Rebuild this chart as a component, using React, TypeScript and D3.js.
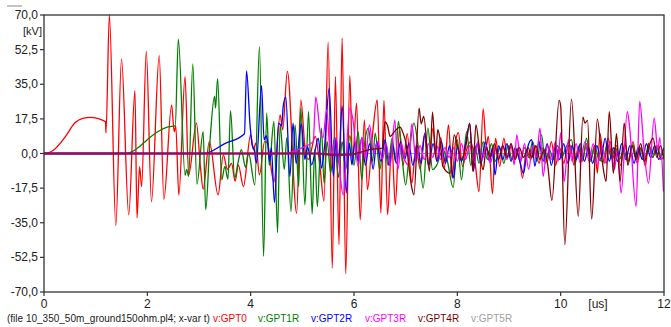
import React from "react";
import * as d3 from "d3";

type P = [number, number];

const gpt0: P[] = [
  [0,0],[0.1,0.5],[0.2,2],[0.4,8],[0.6,15.5],[0.75,17.8],[0.9,18.3],[1.05,17.6],[1.19,16],[1.2,10.4],[1.265,70],[1.39,-36.5],[1.5,47.7],[1.64,-31],[1.76,31.8],[1.8,-32.5],[1.85,-6.6],[1.89,-16.7],[1.98,51.6],[2.08,-24.3],[2.23,49.4],[2.32,-23.2],[2.47,24.6],[2.52,11],[2.55,14],[2.61,-21],[2.73,38.9],[2.8,-10.8],[2.95,15.4],[3.03,-7.4],[3.08,-18],[3.2,6],[3.37,-20.9],[3.47,-0.7],[3.55,-8],[3.63,-5],[3.7,-14],[3.76,-5.7],[3.86,-16.7],[4.0,9.5],[4.05,1.9],[4.1,5.2],[4.17,-10.8],[4.27,6],[4.33,5.2],[4.36,0],[4.45,-14.5],[4.57,19.5],[4.62,12],[4.71,41.5],[4.89,-30.2],[4.97,27.1],[5.07,-1.5],[5.12,-3],[5.25,8.6],[5.34,-6.5],[5.42,-24],[5.5,56.3],[5.58,-58],[5.64,38.9],[5.71,-46],[5.77,58.3],[5.84,-60.8],[5.92,39.3],[5.97,-4.9],[6.05,25.5],[6.12,-33.5],[6.2,17],[6.26,-18.3],[6.36,10],[6.45,27.1],[6.52,-30.1],[6.58,26.8],[6.65,-31],[6.73,5.4],[6.8,-26],[6.88,12],[6.95,-6],[7.03,10],[7.12,-15],[7.2,4],[7.28,-8],[7.36,9],[7.44,-6],[7.53,12.8],[7.6,-4],[7.68,8],[7.75,-7],[7.83,14.5],[7.9,-12.4],[7.96,5],[8.02,10.6],[8.1,-6.5],[8.18,2],[8.26,6],[8.34,-4],[8.42,-19.2],[8.5,22.6],[8.56,4],[8.6,8.6],[8.68,-20.4],[8.74,7.8],[8.82,-6.5],[8.9,7.8],[8.97,-2],[9.04,3.5],[9.12,-2],[9.18,3],[9.26,-12.4],[9.34,1.9],[9.42,-3],[9.5,4],[9.58,-5],[9.66,3],[9.74,-4],[9.82,6],[9.9,-6],[9.98,3],[10.06,-5],[10.12,2],[10.18,4.4],[10.26,-6],[10.34,3],[10.42,-4],[10.5,5],[10.58,-3],[10.66,4],[10.71,-9.9],[10.76,10.3],[10.84,-5],[10.92,7.8],[11.0,-3],[11.08,4],[11.16,-6],[11.24,5],[11.32,-4],[11.4,6],[11.48,-5],[11.56,3],[11.64,-6.5],[11.7,5.2],[11.78,-2],[11.86,4],[11.94,-3],[12,-1.5]
];

const gpt1r: P[] = [
  [0,0],[1.59,0],[1.8,2.5],[2.0,7],[2.2,11],[2.4,13.5],[2.54,14],[2.6,57.8],[2.73,-11],[2.76,-8],[2.8,-11.6],[2.88,45.3],[2.96,-15.5],[3.08,11],[3.13,-28.5],[3.21,5.3],[3.3,28.8],[3.32,23],[3.36,37.8],[3.44,-13.3],[3.5,-6.5],[3.56,-13],[3.61,21.7],[3.69,-12.4],[3.76,-4],[3.82,2],[3.9,-7],[3.96,0],[4.08,-15.8],[4.17,54],[4.25,-52],[4.31,20.4],[4.36,-6],[4.45,16.2],[4.52,-40],[4.57,14.5],[4.65,-8],[4.7,8],[4.78,-29.3],[4.86,14.5],[4.93,-16.7],[4.97,23],[5.05,-26],[5.12,21.2],[5.19,-30.5],[5.24,2],[5.29,-26.8],[5.37,12.8],[5.42,-15],[5.48,6],[5.55,-10],[5.62,8],[5.7,-12],[5.77,6],[5.84,-8],[5.92,9],[6.0,-6],[6.08,11],[6.15,-13.3],[6.2,4],[6.28,12.8],[6.36,-4],[6.41,10.3],[6.5,-8.2],[6.58,6],[6.66,-6],[6.74,8],[6.8,-4],[6.86,16.2],[6.93,-2],[7.0,-15.8],[7.08,3],[7.16,15.4],[7.25,2],[7.34,-17.5],[7.43,12.8],[7.52,-8.2],[7.6,-6],[7.72,2],[7.8,-3],[7.92,-17.2],[8.0,7],[8.08,-13.3],[8.18,11],[8.26,-6],[8.34,4],[8.42,-5],[8.5,6],[8.58,-3],[8.66,5],[8.74,-4],[8.82,3],[8.9,-5],[8.98,4],[9.06,-3],[9.14,2],[9.22,-4],[9.3,3],[9.38,-2],[9.46,6],[9.54,-4],[9.63,9.5],[9.7,-5],[9.78,2],[9.86,-3],[9.94,4],[10.02,-2],[10.1,3],[10.21,7],[10.28,-5],[10.36,4],[10.43,-3],[10.5,7.8],[10.58,-4],[10.66,4],[10.74,-3],[10.82,-4],[10.9,5],[10.98,-2],[11.06,3],[11.14,-3],[11.22,2],[11.3,-4],[11.4,4.4],[11.46,-2],[11.54,3],[11.62,-3],[11.7,4],[11.78,-2],[11.86,3],[11.94,-1],[12,0]
];

const gpt2r: P[] = [
  [0,0],[3.1,0],[3.5,5],[3.88,10],[3.92,41.8],[3.99,13.7],[4.03,4.4],[4.07,1.9],[4.11,-4.9],[4.21,34.3],[4.26,6.9],[4.3,9],[4.33,5.2],[4.37,-4],[4.4,3],[4.46,-24.8],[4.54,15.4],[4.6,14],[4.63,23.8],[4.68,28.5],[4.76,-11.6],[4.82,15.4],[4.88,-5],[4.98,14.9],[5.05,-3],[5.1,3.5],[5.18,-5.7],[5.31,7.8],[5.37,-7.4],[5.43,3.5],[5.52,33],[5.6,-11.6],[5.65,7.8],[5.7,-4.9],[5.77,24.1],[5.85,-20],[5.91,5.2],[5.96,-5.7],[6.02,6],[6.08,-4],[6.15,8],[6.22,-6],[6.3,5],[6.37,-8],[6.44,6],[6.52,-4],[6.6,7],[6.68,-6],[6.75,4],[6.82,-5],[6.9,6],[6.98,-3],[7.06,5],[7.14,-6],[7.22,4],[7.3,-5],[7.37,10.3],[7.45,-6],[7.53,5],[7.61,-4],[7.69,6],[7.77,-5],[7.85,4],[7.92,-12.4],[8.0,3],[8.08,-4],[8.16,5],[8.24,15],[8.31,-9],[8.38,5],[8.46,-5],[8.54,6],[8.62,-4],[8.68,3],[8.73,-10.8],[8.8,4],[8.88,-3],[8.96,5],[9.04,-4],[9.12,3],[9.2,-3],[9.28,-10],[9.36,3],[9.44,7],[9.5,-6.5],[9.58,6],[9.66,-4],[9.74,5],[9.82,-6],[9.9,4],[9.98,-3],[10.06,5],[10.14,-5],[10.22,4],[10.3,-3],[10.38,5],[10.46,-4],[10.54,3],[10.62,-5],[10.7,4],[10.78,-3],[10.86,7.8],[10.94,-4],[11.02,3],[11.1,-4],[11.18,5],[11.26,-3],[11.34,4],[11.42,-5],[11.5,3],[11.58,-3],[11.66,5],[11.74,-2],[11.82,4],[11.9,-3],[12,3]
];

const gpt3r: P[] = [
  [0,0],[4.66,0],[5.0,3],[5.21,6],[5.26,28.5],[5.35,10.3],[5.4,8],[5.47,22],[5.55,-2],[5.65,8],[5.72,-8],[5.79,-21],[5.92,23],[5.98,17],[6.08,-6.5],[6.15,8],[6.22,-2],[6.3,14.5],[6.38,0],[6.46,6],[6.55,-3],[6.62,5],[6.7,-6],[6.79,17],[6.85,-8],[6.92,5],[6.98,-3],[7.05,-5.7],[7.12,15],[7.2,-4],[7.28,4],[7.36,-3],[7.44,5],[7.52,-2],[7.6,4],[7.68,-3],[7.76,3],[7.84,-2],[7.92,3],[8.0,-4],[8.08,5],[8.16,-3],[8.24,4],[8.32,-5],[8.4,6],[8.48,-3],[8.56,4],[8.64,-5],[8.72,3],[8.8,-2],[8.88,4],[8.96,-3],[9.04,5],[9.1,-5.7],[9.15,9.4],[9.23,-4],[9.3,5],[9.38,-8],[9.46,4],[9.53,-2],[9.6,12.8],[9.66,-11.6],[9.74,4],[9.82,-3],[9.9,6],[9.95,-4],[10.0,10.6],[10.07,-14.1],[10.15,7],[10.22,-4],[10.3,5],[10.38,-5],[10.47,6],[10.55,-4],[10.63,5],[10.71,-6],[10.8,4],[10.88,-5],[10.96,6],[11.04,-8],[11.1,2],[11.17,-20],[11.29,21.2],[11.33,14.5],[11.46,-26.8],[11.53,26.3],[11.61,3],[11.7,-15],[11.81,17.9],[11.88,2],[11.92,8],[11.99,-19.2]
];

const gpt4r: P[] = [
  [0,0],[5.3,0],[5.6,-0.7],[5.95,-0.5],[6.1,0.5],[6.3,2],[6.55,2.7],[6.6,16],[6.65,14],[6.7,8.6],[6.78,11],[6.89,13.3],[6.95,10.3],[7.0,6],[7.12,-17.5],[7.16,-20.9],[7.26,22.9],[7.3,15],[7.35,18.7],[7.46,-9],[7.52,20.9],[7.58,-1.5],[7.62,12],[7.66,8],[7.72,-6.5],[7.86,-10],[7.94,9.4],[8.02,2],[8.08,-3],[8.16,3],[8.24,15.4],[8.3,-9],[8.36,14.5],[8.44,-1],[8.5,-8.2],[8.56,3],[8.64,-2],[8.72,5],[8.8,-3],[8.88,4],[8.96,-2],[9.04,5],[9.12,-3],[9.2,3],[9.28,-2],[9.37,3],[9.44,-2],[9.52,4],[9.6,-3],[9.68,2],[9.75,-6],[9.83,-23.7],[9.97,26.8],[10.0,24],[10.08,-46.1],[10.21,27.5],[10.34,-31.8],[10.43,18.4],[10.47,15.4],[10.52,16.7],[10.6,-33.2],[10.71,17.4],[10.8,-3],[10.88,-14.1],[10.94,21.2],[11.02,-10],[11.08,10],[11.15,-14.1],[11.23,15.4],[11.3,-6],[11.38,4],[11.46,-3],[11.55,5],[11.62,-4],[11.7,3],[11.79,7.8],[11.86,-2],[11.93,4],[12,-3]
];

const gpt5r: P[] = [[0,0],[12,0]];

const seriesNames = ["v:GPT0", "v:GPT1R", "v:GPT2R", "v:GPT3R", "v:GPT4R", "v:GPT5R"];
const seriesColors = ["#ff0000", "#008000", "#0000ff", "#ff00ff", "#800000", "#a0a0a0"];
const legendX = [213, 258, 311, 365, 418, 471];
const yTicks = [70, 52.5, 35, 17.5, 0, -17.5, -35, -52.5, -70];
const xTicks = [0, 2, 4, 6, 8, 10, 12];
const fileLabel = "(file 10_350_50m_ground150ohm.pl4; x-var t)";

const W = 671, H = 327;
const L = 44, R = 664, T = 15, B = 292;

export default function App() {
  const x = d3.scaleLinear().domain([0, 12]).range([L, R]);
  const y = d3.scaleLinear().domain([-70, 70]).range([B, T]);
  const line = d3.line<P>().x(d => x(d[0])).y(d => y(d[1])).curve(d3.curveMonotoneX);
  const fmt = d3.formatLocale({ decimal: ",", thousands: ".", grouping: [3], currency: ["", ""], minus: "-" }).format(".1f");
  const all = [gpt0, gpt1r, gpt2r, gpt3r, gpt4r];
  const onset = gpt4r.findIndex(d => d[1] > 1.5);
  const flat4 = gpt4r.slice(0, onset);
  const font = "'Liberation Sans', Arial, sans-serif";
  return (
    <svg width={W} height={H} style={{ position: "absolute", left: 0, top: 0, background: "#fff" }} fontFamily={font}>
      <line x1={7} x2={22} y1={6} y2={6} stroke="#888" strokeWidth={1} />
      <defs>
        <clipPath id="plot"><rect x={L} y={T - 1} width={R - L} height={B - T + 2} /></clipPath>
      </defs>
      <g clipPath="url(#plot)">
        <path d={line(gpt5r) || ""} fill="none" stroke={seriesColors[5]} strokeWidth={1.2} />
        {all.map((s, i) => (
          <path key={i} d={line(s) || ""} fill="none" stroke={seriesColors[i]} strokeWidth={1.3} strokeLinejoin="round" />
        ))}
        <path d={line(flat4) || ""} fill="none" stroke="#8c0f5a" strokeWidth={2.2} />
      </g>
      <rect x={L} y={T} width={R - L} height={B - T} fill="none" stroke="#333" strokeWidth={1.3} />
      {yTicks.map(t => (
        <g key={t}>
          <line x1={L - 4} x2={L} y1={y(t)} y2={y(t)} stroke="#333" strokeWidth={1.2} />
          <text x={L - 6} y={y(t) + 4} textAnchor="end" fontSize={12} fill="#222">{fmt(t)}</text>
        </g>
      ))}
      <text x={42} y={35} textAnchor="end" fontSize={11} fill="#222">[kV]</text>
      {xTicks.map(t => (
        <g key={t}>
          <line x1={x(t)} x2={x(t)} y1={B} y2={B + 4} stroke="#333" strokeWidth={1.2} />
          <text x={x(t)} y={308} textAnchor="middle" fontSize={12} fill="#222">{t}</text>
        </g>
      ))}
      <text x={598} y={308} textAnchor="middle" fontSize={12} fill="#222">[us]</text>
      <text x={7} y={322} fontSize={10} fill="#222">{fileLabel}</text>
      {seriesNames.map((n, i) => (
        <text key={n} x={legendX[i]} y={322} fontSize={10} fill={seriesColors[i]}>{n}</text>
      ))}
    </svg>
  );
}
